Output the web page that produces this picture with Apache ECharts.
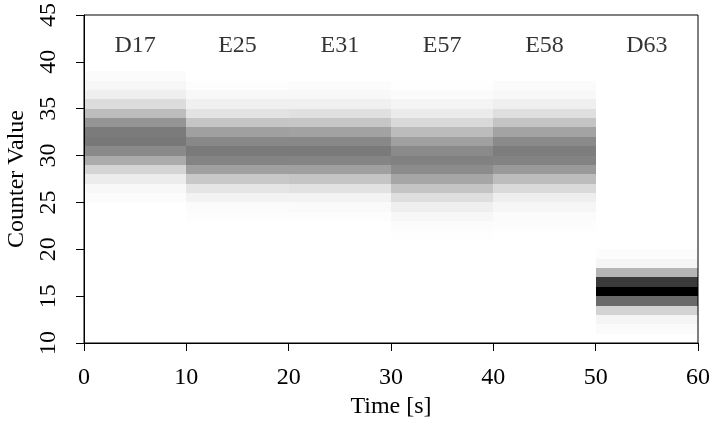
<!DOCTYPE html>
<html>
<head>
<meta charset="utf-8">
<script src="https://cdn.jsdelivr.net/npm/echarts@6/dist/echarts.min.js"></script>
<style>
  html, body { margin: 0; padding: 0; background: #ffffff; }
  #chart { width: 710px; height: 426px; }
</style>
</head>
<body>
<div id="chart"></div>
<script>
// Counter value histograms over time: one 10 s window per run label,
// one row per unit counter bin; darkness = share of samples in the bin.
const runLabels = ['D17', 'E25', 'E31', 'E57', 'E58', 'D63'];
const windowStart = [0, 10, 20, 30, 40, 50];
const windowLength = 10;

// lowest counter bin that carries a density value, per run
const firstBin = [25, 23, 23, 21, 22, 11];

// densities per unit bin, starting at firstBin
const densD17 = [0.012, 0.027, 0.075, 0.169, 0.329, 0.459, 0.529, 0.518, 0.416, 0.259, 0.137, 0.063, 0.031, 0.016];
const densE25 = [0.008, 0.016, 0.047, 0.102, 0.216, 0.373, 0.482, 0.522, 0.467, 0.373, 0.227, 0.110, 0.059, 0.027, 0.008];
const densE31 = [0.008, 0.020, 0.047, 0.114, 0.227, 0.373, 0.478, 0.522, 0.467, 0.365, 0.224, 0.122, 0.059, 0.027, 0.012];
const densE57 = [0.004, 0.012, 0.031, 0.063, 0.129, 0.231, 0.349, 0.451, 0.494, 0.459, 0.373, 0.263, 0.149, 0.078, 0.043, 0.016, 0.004];
const densE58 = [0.008, 0.016, 0.035, 0.067, 0.145, 0.259, 0.396, 0.486, 0.510, 0.459, 0.361, 0.231, 0.125, 0.063, 0.027, 0.016];
const densD63 = [0.016, 0.039, 0.173, 0.584, 1.000, 0.773, 0.290, 0.039, 0.012];

const densities = [densD17, densE25, densE31, densE57, densE58, densD63];

const xTicks = { min: 0, max: 60, interval: 10 };
const yTicks = { min: 10, max: 45, interval: 5 };
const labelLevel = 41.7;

// one rectangle per (window, bin): [t0, t1, binLow, binHigh, density]
const cells = [];
densities.forEach(function (arr, i) {
  arr.forEach(function (d, k) {
    const b = firstBin[i] + k;
    cells.push([windowStart[i], windowStart[i] + windowLength, b, b + 1, d]);
  });
});

const labelPoints = runLabels.map(function (name, i) {
  return { name: name, value: [windowStart[i] + windowLength / 2, labelLevel] };
});

const FONT = '"Liberation Serif", "DejaVu Serif", serif';
const FS = 24;
const chart = echarts.init(document.getElementById('chart'), null, { renderer: 'canvas' });

chart.setOption({
  animation: false,
  backgroundColor: '#ffffff',
  grid: {
    left: 84, right: 12, top: 15, bottom: 83, z: 10,
    outerBoundsMode: 'none', containLabel: false,
    show: true, borderColor: '#000000', borderWidth: 1, backgroundColor: 'transparent'
  },
  visualMap: {
    show: false,
    type: 'continuous',
    dimension: 4,
    seriesIndex: 0,
    min: 0, max: 1,
    inRange: { color: ['#ffffff', '#000000'] }
  },
  xAxis: {
    type: 'value', z: 10,
    min: xTicks.min, max: xTicks.max, interval: xTicks.interval,
    name: 'Time [s]', nameLocation: 'middle', nameGap: 50,
    nameTextStyle: { fontFamily: FONT, fontSize: FS, color: '#000000' },
    axisLine: { show: true, onZero: false, lineStyle: { color: '#000000', width: 1 } },
    axisTick: { show: true, inside: false, length: 8, lineStyle: { color: '#000000', width: 1 } },
    axisLabel: { fontFamily: FONT, fontSize: FS, color: '#000000', margin: 23 },
    splitLine: { show: false }
  },
  yAxis: {
    type: 'value', z: 10,
    min: yTicks.min, max: yTicks.max, interval: yTicks.interval,
    name: 'Counter Value', nameLocation: 'middle', nameGap: 54,
    nameTextStyle: { fontFamily: FONT, fontSize: FS, color: '#000000' },
    axisLine: { show: true, onZero: false, lineStyle: { color: '#000000', width: 1 } },
    axisTick: { show: true, inside: false, length: 8, lineStyle: { color: '#000000', width: 1 } },
    axisLabel: { fontFamily: FONT, fontSize: FS, color: '#000000', rotate: 90, margin: 23 },
    splitLine: { show: false }
  },
  series: [
    {
      type: 'custom',
      data: cells,
      encode: { x: [0, 1], y: [2, 3] },
      renderItem: function (params, api) {
        const p0 = api.coord([api.value(0), api.value(3)]);
        const p1 = api.coord([api.value(1), api.value(2)]);
        const x = Math.round(p0[0]);
        const y = Math.round(p0[1]);
        return {
          type: 'rect',
          shape: { x: x, y: y, width: Math.round(p1[0]) - x, height: Math.round(p1[1]) - y },
          style: { fill: api.visual('color') }
        };
      },
      z: 1
    },
    {
      type: 'scatter',
      data: labelPoints,
      symbolSize: 0,
      silent: true,
      label: {
        show: true, position: 'inside', formatter: '{b}',
        fontFamily: FONT, fontSize: FS, color: '#000000'
      },
      z: 3
    }
  ]
});
</script>
</body>
</html>
